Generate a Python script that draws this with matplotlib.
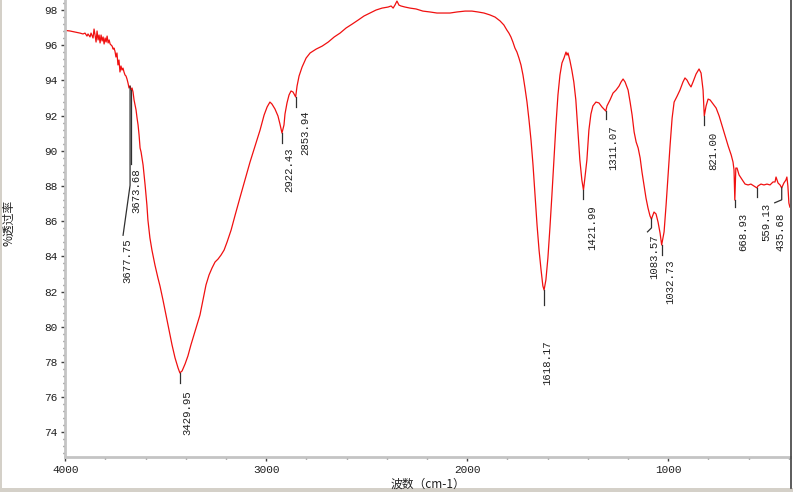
import numpy as np
import matplotlib
matplotlib.use('Agg')
import matplotlib.pyplot as plt
from matplotlib.ticker import MultipleLocator
from matplotlib.lines import Line2D
from matplotlib.patches import Rectangle

# IR spectrum: wavenumber (cm-1) and % transmittance
wavenumber = [
    3999, 3977, 3952, 3927, 3912, 3902, 3892, 3887, 3877, 3872, 3862, 3857,
    3852, 3847, 3842, 3837, 3832, 3827, 3822, 3817, 3812, 3807, 3802, 3797,
    3792, 3787, 3782, 3777, 3767, 3762, 3758, 3753, 3748, 3743, 3738, 3733,
    3728, 3723, 3718, 3713, 3708, 3703, 3698, 3693, 3688, 3683, 3678, 3673,
    3668, 3663, 3658, 3648, 3643, 3638, 3633, 3628, 3623, 3613, 3603, 3594,
    3589, 3579, 3569, 3554, 3539, 3529, 3514, 3499, 3484, 3469, 3454, 3439,
    3430, 3419, 3404, 3390, 3375, 3360, 3345, 3330, 3315, 3300, 3285, 3270,
    3255, 3240, 3225, 3210, 3195, 3175, 3155, 3130, 3106, 3081, 3056, 3031,
    3011, 2996, 2982, 2972, 2957, 2942, 2932, 2922, 2912, 2907, 2897, 2887,
    2877, 2867, 2854, 2847, 2837, 2822, 2802, 2782, 2752, 2722, 2692, 2662,
    2633, 2603, 2573, 2543, 2514, 2484, 2454, 2424, 2394, 2379, 2369, 2360,
    2350, 2340, 2330, 2310, 2285, 2255, 2221, 2186, 2151, 2116, 2086, 2051,
    2011, 1977, 1947, 1917, 1887, 1862, 1837, 1818, 1803, 1793, 1783, 1773,
    1763, 1753, 1743, 1733, 1723, 1713, 1703, 1693, 1683, 1673, 1663, 1653,
    1643, 1633, 1624, 1618, 1609, 1599, 1589, 1579, 1569, 1559, 1549, 1539,
    1529, 1519, 1514, 1509, 1504, 1499, 1490, 1480, 1470, 1460, 1450, 1440,
    1430, 1422, 1415, 1405, 1395, 1385, 1375, 1360, 1345, 1330, 1311, 1305,
    1290, 1275, 1260, 1245, 1235, 1225, 1215, 1200, 1190, 1180, 1170, 1160,
    1150, 1140, 1131, 1121, 1111, 1101, 1091, 1084, 1071, 1061, 1051, 1041,
    1033, 1021, 1011, 1001, 991, 981, 971, 956, 942, 927, 917, 907,
    897, 887, 877, 862, 847, 837, 827, 821, 812, 802, 792, 777,
    762, 747, 732, 717, 702, 687, 678, 673, 669, 664, 658, 648,
    638, 628, 618, 603, 589, 574, 559, 554, 539, 524, 509, 494,
    479, 469, 464, 454, 444, 436, 425, 415, 410, 405, 400, 395,
]
transmittance = [
    96.84, 96.81, 96.75, 96.69, 96.64, 96.69, 96.52, 96.64, 96.47, 96.69, 96.41, 96.92,
    96.58, 96.18, 96.81, 96.30, 96.58, 96.13, 96.58, 96.24, 96.47, 96.07, 96.41, 96.18,
    96.52, 96.13, 96.30, 96.07, 95.95, 95.78, 95.84, 95.67, 95.33, 95.56, 94.88, 95.16,
    94.48, 94.82, 94.59, 94.70, 94.48, 94.31, 94.25, 94.08, 93.85, 93.57, 93.68, 93.45,
    93.57, 93.34, 92.89, 92.32, 91.86, 91.47, 90.90, 90.16, 89.93, 89.19, 88.06, 86.92,
    86.07, 85.05, 84.36, 83.51, 82.77, 82.32, 81.52, 80.67, 79.82, 78.97, 78.23, 77.66,
    77.38, 77.49, 77.89, 78.34, 78.97, 79.53, 80.10, 80.67, 81.52, 82.38, 82.94, 83.34,
    83.68, 83.85, 84.08, 84.36, 84.82, 85.50, 86.35, 87.38, 88.34, 89.36, 90.27, 91.18,
    92.03, 92.49, 92.77, 92.66, 92.38, 91.98, 91.52, 91.01, 91.47, 92.09, 92.72, 93.17,
    93.40, 93.34, 93.06, 93.68, 94.25, 94.76, 95.27, 95.56, 95.78, 95.95, 96.18, 96.47,
    96.69, 96.98, 97.20, 97.43, 97.66, 97.83, 98.00, 98.11, 98.17, 98.23, 98.11, 98.28,
    98.51, 98.28, 98.23, 98.17, 98.11, 98.06, 97.94, 97.89, 97.83, 97.83, 97.83, 97.89,
    97.94, 97.94, 97.89, 97.83, 97.72, 97.60, 97.38, 97.15, 96.86, 96.69, 96.47, 96.18,
    95.84, 95.61, 95.27, 94.88, 94.31, 93.57, 92.77, 91.75, 90.61, 89.19, 87.49, 85.78,
    84.36, 83.23, 82.32, 82.09, 82.66, 83.91, 85.61, 87.49, 89.48, 91.47, 93.17, 94.31,
    94.99, 95.27, 95.44, 95.61, 95.44, 95.56, 95.16, 94.59, 93.91, 92.89, 91.18, 89.48,
    88.34, 87.77, 88.45, 89.48, 91.18, 92.09, 92.55, 92.77, 92.72, 92.49, 92.26, 92.55,
    92.89, 93.28, 93.45, 93.68, 93.91, 94.08, 93.91, 93.45, 92.77, 92.03, 91.07, 90.50,
    90.16, 89.59, 88.80, 88.06, 87.32, 86.75, 86.30, 86.12, 86.52, 86.41, 85.95, 85.33,
    84.65, 85.39, 86.92, 88.63, 90.33, 91.86, 92.77, 93.11, 93.45, 93.91, 94.14, 94.02,
    93.80, 93.63, 93.91, 94.36, 94.65, 94.42, 93.45, 91.98, 92.55, 92.94, 92.89, 92.66,
    92.43, 91.98, 91.41, 90.84, 90.27, 89.76, 89.36, 88.91, 87.20, 89.02, 89.02, 88.63,
    88.45, 88.28, 88.11, 88.06, 88.11, 88.00, 87.89, 88.00, 88.11, 88.06, 88.11, 88.06,
    88.23, 88.23, 88.51, 88.17, 88.06, 87.89, 88.17, 88.34, 88.51, 88.00, 87.03, 86.80,
]

# picked peaks
peak_wn = [3677.75, 3673.68, 3429.95, 2922.43, 2853.94, 1618.17, 1421.99,
           1311.07, 1083.57, 1032.73, 821.00, 668.93, 559.13, 435.68]
peak_labels = ['3677.75', '3673.68', '3429.95', '2922.43', '2853.94', '1618.17',
               '1421.99', '1311.07', '1083.57', '1032.73', '821.00', '668.93',
               '559.13', '435.68']

x_ticks = [4000, 3000, 2000, 1000]
y_ticks = list(range(74, 99, 2))

# leader layout in pixels relative to the peak point (dx right, dy down)
leader_px = {
    '3677.75': ([(0, 99), (-7, 149)], (-3, 152)),
    '3673.68': ([(0, 74)], (5, 79)),
    '3429.95': ([(0, 10)], (7, 17)),
    '2922.43': ([(0, 10)], (7, 15)),
    '2853.94': ([(0, 10)], (10, 14)),
    '1618.17': ([(0, 15)], (3, 50)),
    '1421.99': ([(0, 9)], (9, 15)),
    '1311.07': ([(0, 8)], (7, 14)),
    '1083.57': ([(0, 9), (-4, 13)], (3, 16)),
    '1032.73': ([(0, 10)], (8, 15)),
    '821.00': ([(0, 9)], (9, 16)),
    '668.93': ([(0, 7)], (8, 13)),
    '559.13': ([(0, 9)], (9, 15)),
    '435.68': ([(0, 12), (-7, 15)], (-1, 25)),
}

W, H = 793, 492
fig = plt.figure(figsize=(W / 100, H / 100), dpi=100)
fig.patch.set_facecolor('white')
ax = fig.add_axes([65.3 / W, 35 / H, (790 - 65.3) / W, 1 - 35 / H])
ax.set_xlim(4000, 394.5)
ax.set_ylim(72.6, 98.57)

ax.plot(wavenumber, transmittance, color='#f01010', lw=0.9)

mono = 'Liberation Mono'
cjk = ['Noto Sans CJK SC', 'DejaVu Sans']

ax.set_xticks(x_ticks)
ax.set_yticks(y_ticks)
ax.xaxis.set_minor_locator(MultipleLocator(200))
ax.yaxis.set_minor_locator(MultipleLocator(0.4))
ax.tick_params(which='major', length=3, width=1, color='#404040', pad=2.5,
               labelsize=8, labelcolor='#202020')
ax.tick_params(which='minor', length=1.5, width=1, color='#606060')
for lab in ax.get_xticklabels() + ax.get_yticklabels():
    lab.set_family(mono)

for side in ['top', 'right']:
    ax.spines[side].set_visible(False)
for side in ['left', 'bottom']:
    ax.spines[side].set_color('#c4c4c4')
    ax.spines[side].set_linewidth(2)

# peak markers and labels
wn_asc = np.array(wavenumber)[::-1]
t_asc = np.array(transmittance)[::-1]
to_px = ax.transData
from_px = ax.transData.inverted()
for w, lab in zip(peak_wn, peak_labels):
    t0 = np.interp(w, wn_asc, t_asc)
    px0, py0 = to_px.transform((w, t0))
    bends, (tdx, tdy) = leader_px[lab]
    pts = [(px0, py0)] + [(px0 + dx, py0 - dy) for dx, dy in bends]
    data_pts = from_px.transform(pts)
    ax.plot(data_pts[:, 0], data_pts[:, 1], color='#303030', lw=0.9)
    tx, ty = from_px.transform((px0 + tdx, py0 - tdy))
    ax.text(tx, ty, lab, rotation=90, ha='center', va='top', fontsize=7.7,
            family=mono, color='#202020', clip_on=True)

fig.text(9 / W, 1 - 223 / H, '%透过率', rotation=90, ha='center', va='center',
         fontsize=8.5, family=cjk, color='#202020')
fig.text(427.5 / W, 1 - 484 / H, '波数（cm-1）', ha='center', va='center',
         fontsize=8.5, family=cjk, color='#202020')

# window frame bits
fig.add_artist(Line2D([790.5 / W, 790.5 / W], [1 - 488 / H, 1], color='#404040', lw=1.2))
fig.add_artist(Rectangle((0, 0), 2 / W, 1, color='#d4d0c8', lw=0))
fig.add_artist(Rectangle((0, 0), 1, 4 / H, color='#d4d0c8', lw=0))

fig.savefig('out.png', dpi=100)
